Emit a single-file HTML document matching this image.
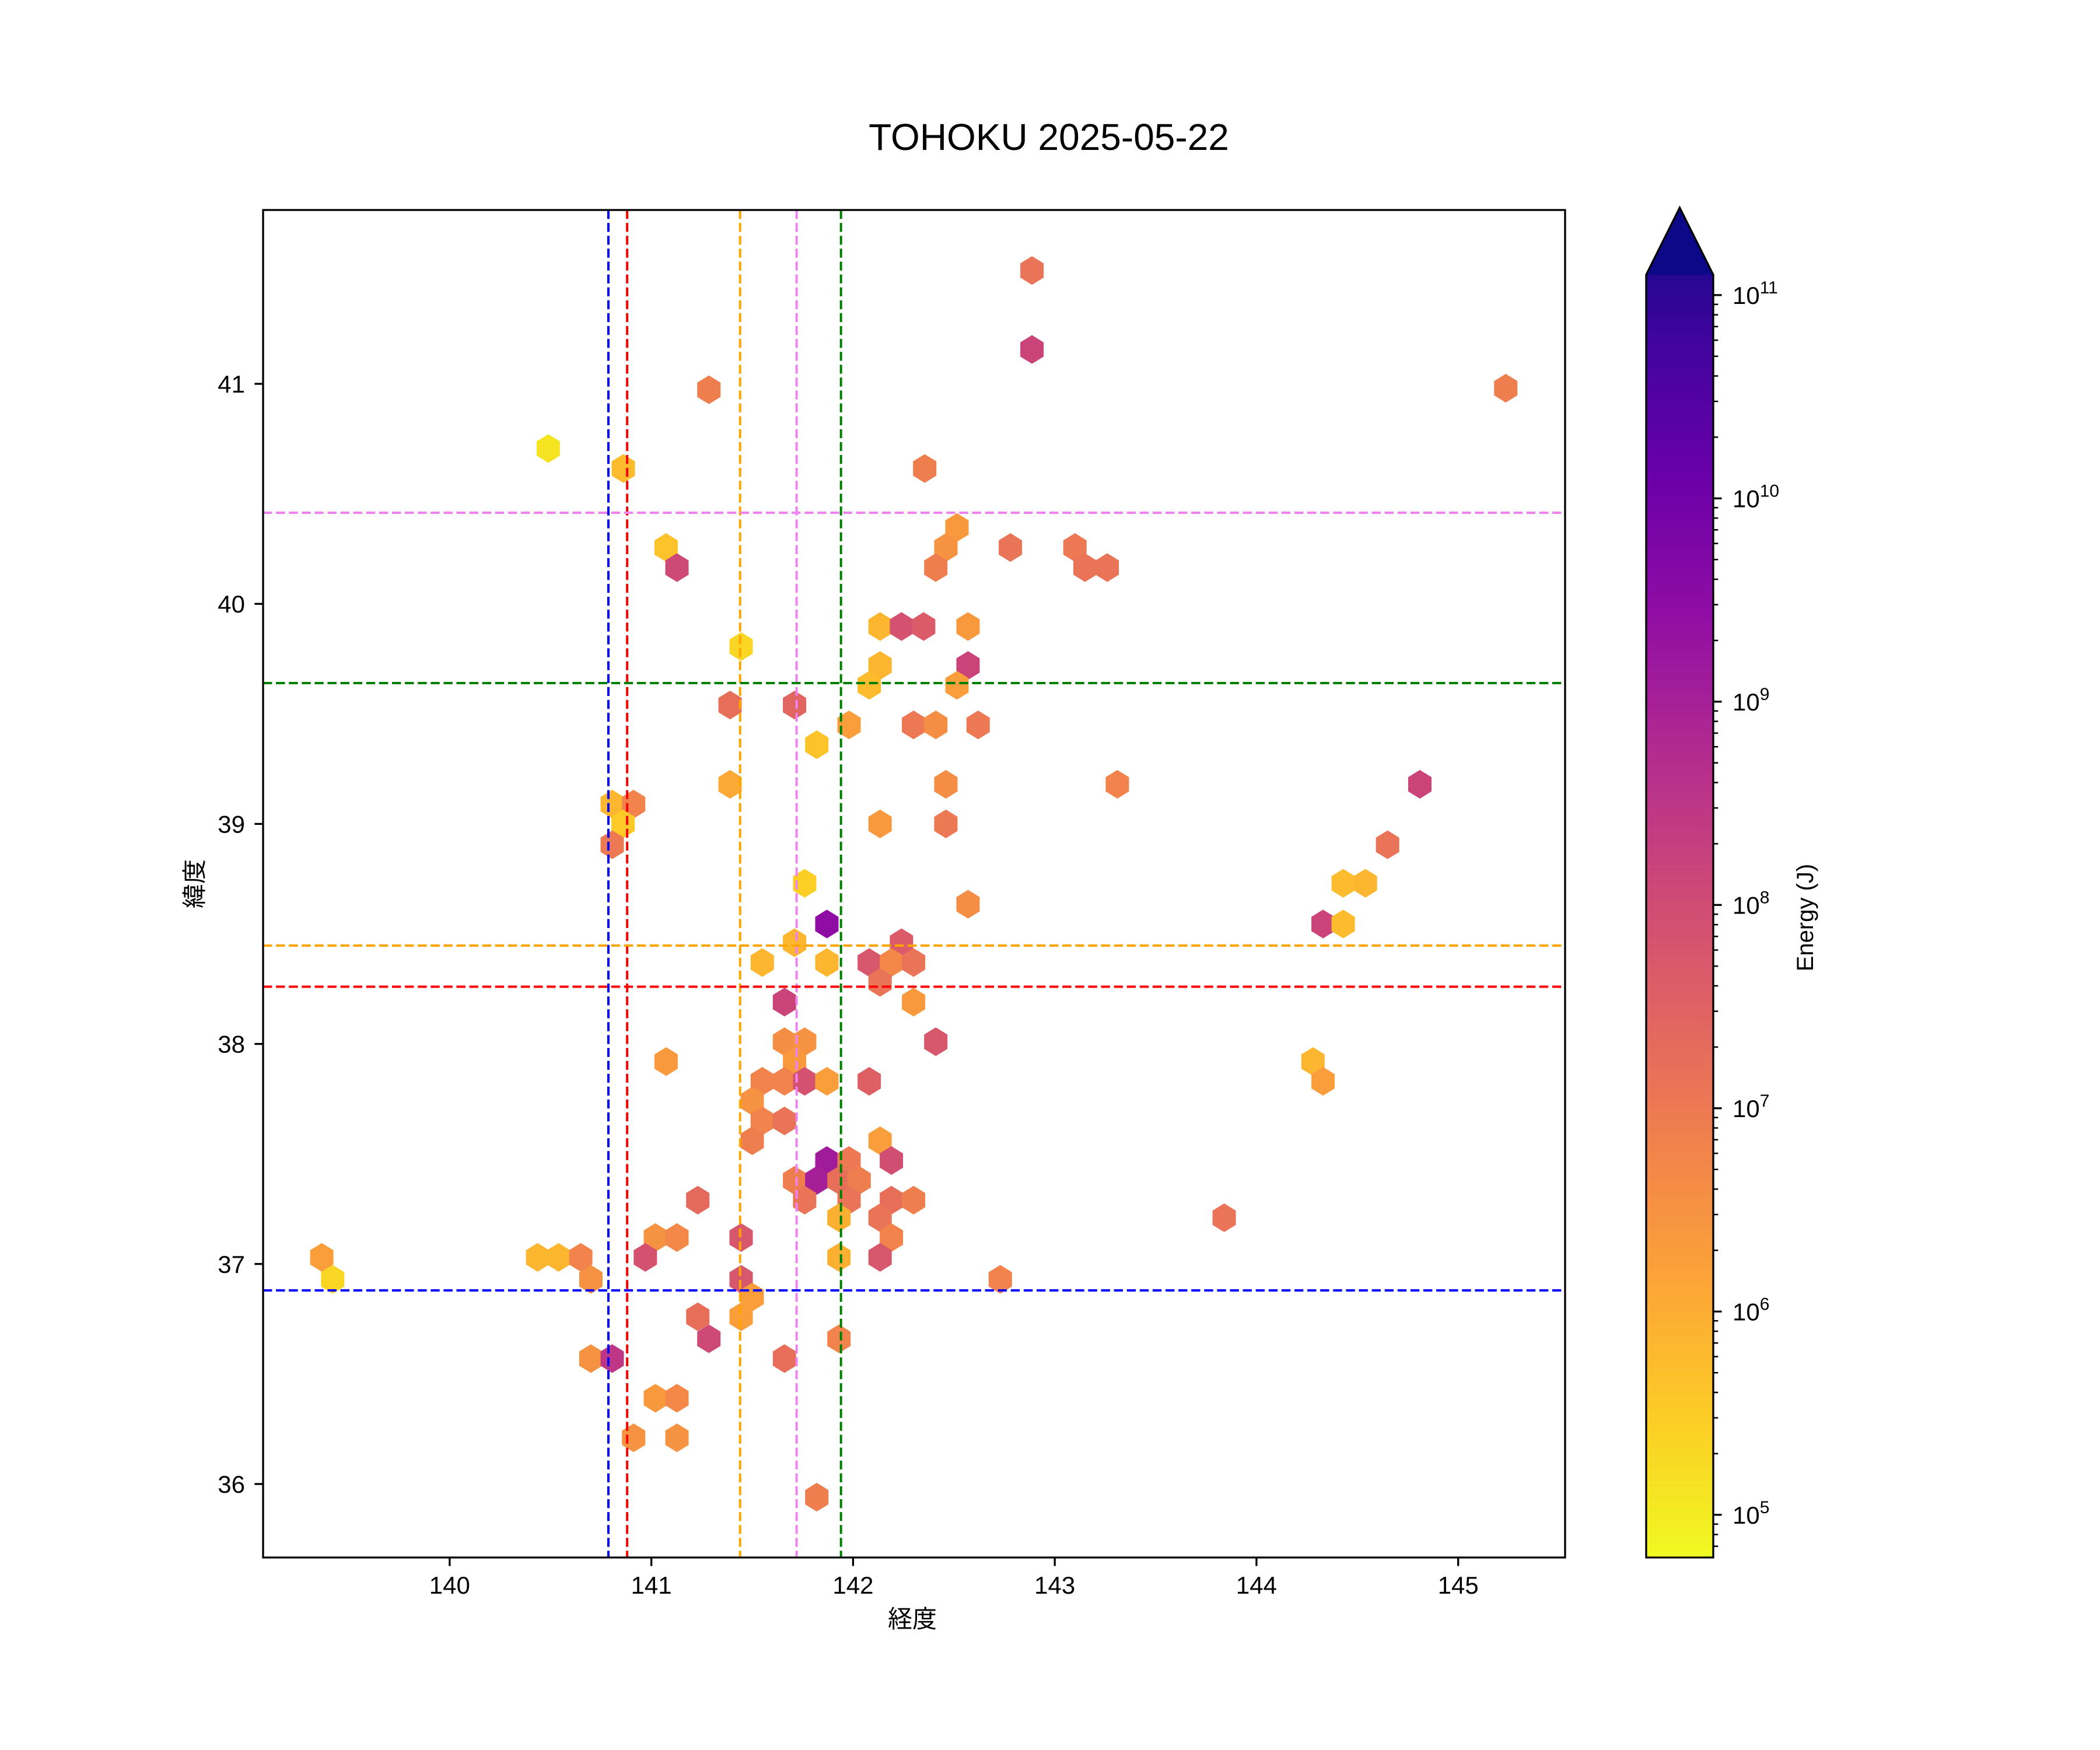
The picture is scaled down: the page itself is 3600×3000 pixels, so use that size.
<!DOCTYPE html>
<html><head><meta charset="utf-8"><title>TOHOKU 2025-05-22</title>
<style>html,body{margin:0;padding:0;background:#fff;}svg{display:block;}
text{font-family:"Liberation Sans","Noto Sans CJK JP",sans-serif;fill:#000;}</style></head>
<body>
<svg id="chart" xmlns="http://www.w3.org/2000/svg" width="3600" height="3000" viewBox="0 0 3600 3000">
<rect width="3600" height="3000" fill="#fff"/>
<text x="1798" y="257" font-size="64" text-anchor="middle">TOHOKU 2025-05-22</text>
<defs>
<linearGradient id="plasma" x1="0" y1="1" x2="0" y2="0">
<stop offset="0" stop-color="#f0f921"/><stop offset="0.1" stop-color="#fcce25"/><stop offset="0.2" stop-color="#fca636"/><stop offset="0.3" stop-color="#f2844b"/><stop offset="0.4" stop-color="#e16462"/><stop offset="0.5" stop-color="#cc4778"/><stop offset="0.6" stop-color="#b12a90"/><stop offset="0.7" stop-color="#8f0da4"/><stop offset="0.8" stop-color="#6a00a8"/><stop offset="0.9" stop-color="#41049d"/><stop offset="1" stop-color="#0d0887"/>
</linearGradient>
<clipPath id="plotclip"><rect x="451" y="360" width="2232" height="2310"/></clipPath>
</defs>
<g id="hexes" clip-path="url(#plotclip)"></g>
<g id="refl" clip-path="url(#plotclip)"></g>
<rect x="451" y="360" width="2232" height="2310" fill="none" stroke="#000" stroke-width="3.3"/>
<g id="xticks"></g>
<g id="yticks"></g>
<text x="1564" y="2790" font-size="42" text-anchor="middle">経度</text>
<text x="0" y="0" font-size="42" text-anchor="middle" transform="translate(348,1515) rotate(-90)">緯度</text>
<g id="cbar"></g>
<text x="0" y="0" font-size="40" text-anchor="middle" transform="translate(3108,1573) rotate(-90)">Energy (J)</text>
</svg>
<script>
const hexLon = [142.887,142.887,145.236,141.285,140.489,140.861,142.355,141.073,141.127,142.515,142.46,142.41,142.78,143.1,143.15,143.26,142.134,142.24,142.35,142.57,141.445,142.134,142.57,142.08,142.515,141.39,141.71,141.98,142.3,142.41,142.62,141.82,141.39,142.46,143.31,144.81,140.806,140.912,140.86,142.134,142.46,140.806,144.65,141.76,144.43,144.54,142.57,141.87,144.33,144.43,141.71,142.24,141.55,141.87,142.08,142.19,142.3,142.134,141.66,142.3,141.66,141.76,142.41,141.073,141.71,144.28,141.55,141.66,141.76,141.87,142.08,144.33,141.5,141.55,141.66,141.5,142.134,141.87,141.98,142.19,141.71,141.82,141.93,142.03,141.76,141.98,141.23,142.19,142.3,141.93,142.134,143.84,141.02,141.127,141.445,142.19,139.366,140.436,140.54,140.65,140.97,141.93,142.134,139.42,140.7,141.445,142.73,141.5,141.445,141.23,141.285,141.93,140.7,140.806,141.66,141.02,141.127,140.912,141.127,141.82];
const hexLat = [41.515,41.156,40.98,40.973,40.706,40.615,40.615,40.256,40.165,40.347,40.256,40.165,40.256,40.256,40.165,40.165,39.897,39.897,39.897,39.897,39.806,39.72,39.72,39.63,39.63,39.54,39.54,39.45,39.45,39.45,39.45,39.36,39.18,39.18,39.18,39.18,39.09,39.09,39.0,39.0,39.0,38.905,38.905,38.73,38.73,38.73,38.635,38.545,38.545,38.545,38.46,38.46,38.37,38.37,38.37,38.37,38.37,38.28,38.19,38.19,38.01,38.01,38.01,37.92,37.92,37.92,37.83,37.83,37.83,37.83,37.83,37.83,37.74,37.65,37.65,37.56,37.56,37.47,37.47,37.47,37.38,37.38,37.38,37.38,37.29,37.29,37.29,37.29,37.29,37.21,37.21,37.21,37.12,37.12,37.12,37.12,37.03,37.03,37.03,37.03,37.03,37.03,37.03,36.93,36.93,36.93,36.93,36.85,36.76,36.76,36.66,36.66,36.57,36.57,36.57,36.39,36.39,36.21,36.21,35.94];
const hexLogE = [7.0,8.0,6.8,6.8,5.1,5.7,6.8,5.6,7.9,6.3,6.4,6.8,7.0,6.9,7.0,7.0,5.8,7.7,7.5,6.3,5.3,5.8,8.0,5.7,6.2,7.1,7.3,6.2,6.9,6.5,6.9,5.6,6.0,6.5,6.7,8.0,5.8,6.7,5.5,6.3,6.9,6.9,7.0,5.4,5.7,5.8,6.5,9.2,8.0,5.7,5.8,7.5,5.8,5.8,7.6,6.6,7.0,7.0,8.0,6.3,6.5,6.4,7.6,6.3,6.3,5.8,6.7,6.7,7.7,6.2,7.4,6.2,6.4,6.7,7.0,6.8,6.2,8.9,6.9,7.8,6.8,8.8,7.1,6.8,7.0,7.0,7.2,7.1,6.8,5.9,7.0,7.0,6.4,6.6,7.6,6.7,6.2,5.8,5.8,6.7,7.7,5.9,7.6,5.3,6.4,7.6,6.7,6.2,6.2,7.1,7.9,6.7,6.4,8.3,7.1,6.3,6.6,6.4,6.4,6.8];
const vLineLon = [140.787,140.88,141.44,141.72,141.94];
const hLineLat = [40.414,39.64,38.447,38.26,36.88];
const lineColors = ["blue","red","orange","violet","green"];
const lineNames = ["blue","red","orange","violet","green"];
const hLineColors = ["violet","green","orange","red","blue"];
const xTicks = [140,141,142,143,144,145];
const yTicks = [36,37,38,39,40,41];
const cbTicks = [5,6,7,8,9,10,11];

const NS="http://www.w3.org/2000/svg";
const X0=451,X1=2683,Y0=360,Y1=2670;
const LONMIN=139.075, LONMAX=145.53, LATMIN=35.666, LATMAX=41.79;
const CMIN=4.79, CMAX=11.1, CB_TOP=471, CB_BOT=2670, CB_L=2822, CB_R=2937;
function sx(v){return X0+(v-LONMIN)/(LONMAX-LONMIN)*(X1-X0);}
function sy(v){return Y1-(v-LATMIN)/(LATMAX-LATMIN)*(Y1-Y0);}
function cy(v){return CB_BOT-(v-CMIN)/(CMAX-CMIN)*(CB_BOT-CB_TOP);}
const stops=["#0d0887","#41049d","#6a00a8","#8f0da4","#b12a90","#cc4778","#e16462","#f2844b","#fca636","#fcce25","#f0f921"];
function hex2rgb(h){return [parseInt(h.slice(1,3),16),parseInt(h.slice(3,5),16),parseInt(h.slice(5,7),16)];}
function plasma(t){t=Math.max(0,Math.min(1,t));const p=t*10,i=Math.min(9,Math.floor(p)),f=p-i;const a=hex2rgb(stops[i]),b=hex2rgb(stops[i+1]);
return "rgb("+a.map((v,k)=>Math.round(v+(b[k]-v)*f)).join(",")+")";}
function mk(tag,attrs,parent){const e=document.createElementNS(NS,tag);for(const k in attrs)e.setAttribute(k,attrs[k]);parent.appendChild(e);return e;}

const gh=document.getElementById("hexes");
const HW=19.5, HV=24;
for(let i=0;i<hexLon.length;i++){
  const x=sx(hexLon[i]), y=sy(hexLat[i]);
  const pts=[[x,y-HV],[x+HW,y-HV/2],[x+HW,y+HV/2],[x,y+HV],[x-HW,y+HV/2],[x-HW,y-HV/2]].map(p=>p[0].toFixed(1)+","+p[1].toFixed(1)).join(" ");
  const t=1-(hexLogE[i]-CMIN)/(CMAX-CMIN);
  const c=plasma(t);
  const p=mk("polygon",{points:pts,fill:c,stroke:c,"stroke-width":"1"},gh);
  
  
}
const gr=document.getElementById("refl");
for(let i=0;i<vLineLon.length;i++){
  const x=sx(vLineLon[i]);
  const l=mk("line",{x1:x,x2:x,y1:Y0,y2:Y1,stroke:lineColors[i],"stroke-width":"4","stroke-dasharray":"15.4 6.7"},gr);
  
  
}
for(let i=0;i<hLineLat.length;i++){
  const y=sy(hLineLat[i]);
  const l=mk("line",{x1:X0,x2:X1,y1:y,y2:y,stroke:hLineColors[i],"stroke-width":"4","stroke-dasharray":"15.4 6.7"},gr);
  
  
}
const gx=document.getElementById("xticks");
xTicks.forEach(v=>{const x=sx(v);
  mk("line",{x1:x,x2:x,y1:Y1,y2:Y1+14.6,stroke:"#000","stroke-width":"3.3"},gx);
  const t=mk("text",{x:x,y:2732,"font-size":"42","text-anchor":"middle"},gx);t.textContent=v;
  
  
});
const gy=document.getElementById("yticks");
yTicks.forEach(v=>{const y=sy(v);
  mk("line",{x1:X0-14.6,x2:X0,y1:y,y2:y,stroke:"#000","stroke-width":"3.3"},gy);
  const t=mk("text",{x:420,y:y+15,"font-size":"42","text-anchor":"end"},gy);t.textContent=v;
  
  
});
const gc=document.getElementById("cbar");
const cbMid=(CB_L+CB_R)/2;
mk("polygon",{points:`${CB_L},${CB_BOT} ${CB_L},${CB_TOP} ${cbMid},356 ${CB_R},${CB_TOP} ${CB_R},${CB_BOT}`,fill:"url(#plasma)"},gc);
mk("polygon",{points:`${CB_L},${CB_TOP+1} ${cbMid},357 ${CB_R},${CB_TOP+1}`,fill:"#0d0887"},gc);
mk("polygon",{points:`${CB_L},${CB_BOT} ${CB_L},${CB_TOP} ${cbMid},356 ${CB_R},${CB_TOP} ${CB_R},${CB_BOT}`,fill:"none",stroke:"#000","stroke-width":"3.3"},gc);
for(let d=4;d<=11;d++){for(let m=2;m<=9;m++){const v=d+Math.log10(m);if(v<CMIN||v>CMAX)continue;
  mk("line",{x1:CB_R,x2:CB_R+8.3,y1:cy(v),y2:cy(v),stroke:"#000","stroke-width":"2.5"},gc);}}
cbTicks.forEach(v=>{const y=cy(v);
  mk("line",{x1:CB_R,x2:CB_R+14.6,y1:y,y2:y,stroke:"#000","stroke-width":"3.3"},gc);
  const t=mk("text",{x:2970,y:y+15,"font-size":"42"},gc);
  t.textContent="10";
  const s=mk("tspan",{"font-size":"30",dy:"-18"},t);s.textContent=String(v);
  
  
});
</script>
</body></html>
